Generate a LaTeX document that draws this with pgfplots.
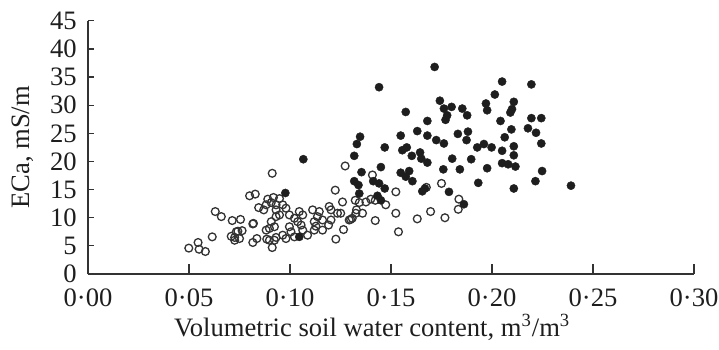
\documentclass[border=0pt]{standalone}
\usepackage{pgfplots}
\pgfplotsset{compat=1.18}
\usepackage{pgfplotstable}
\usepackage{fontspec}
\setmainfont{Liberation Serif}
\definecolor{ink}{HTML}{1E1E1E}
\definecolor{axc}{HTML}{333333}

\pgfplotstableread{
x y
0.0499 4.6
0.0545 5.6
0.0550 4.4
0.0581 4.0
0.0615 6.6
0.0630 11.1
0.0660 10.2
0.0714 9.5
0.0709 6.7
0.0726 6.5
0.0734 7.5
0.0912 17.9
0.0800 13.9
0.0828 14.2
0.0755 9.7
0.0819 9.0
0.0845 11.8
0.0870 11.4
0.0890 13.3
0.0918 13.6
0.0882 12.3
0.0907 12.7
0.0931 12.3
0.0907 9.3
0.0898 8.1
0.0923 8.4
0.0882 7.8
0.0742 7.6
0.0750 6.3
0.0726 6.0
0.0763 7.7
0.0816 5.6
0.0836 6.3
0.0885 6.2
0.0898 6.0
0.0912 4.7
0.0931 6.5
0.0931 10.2
0.0816 8.9
0.1273 19.2
0.1224 14.9
0.1260 12.8
0.0948 13.4
0.0964 12.3
0.0980 11.7
0.0931 11.4
0.0948 10.5
0.0997 10.5
0.1022 9.9
0.1046 11.1
0.1063 10.5
0.1038 9.3
0.1055 8.7
0.1063 7.8
0.1112 11.4
0.1145 11.1
0.1136 10.2
0.1194 12.0
0.1203 11.4
0.1235 10.8
0.1120 9.3
0.1128 8.5
0.1120 7.8
0.1161 9.6
0.1191 8.7
0.1203 9.6
0.1161 7.8
0.1087 6.9
0.0997 8.4
0.1005 7.5
0.1022 6.6
0.0964 6.9
0.0980 6.3
0.0923 6.0
0.1227 6.2
0.1293 9.6
0.1308 9.9
0.1323 13.1
0.1343 12.7
0.1376 12.8
0.1400 13.3
0.1422 13.1
0.1329 11.4
0.1359 10.8
0.1422 9.5
0.1408 17.6
0.1265 7.9
0.1251 10.8
0.1300 9.7
0.1326 10.8
0.1474 12.3
0.1524 14.6
0.1524 10.8
0.1537 7.5
0.1630 9.8
0.1696 11.1
0.1767 10.0
0.1750 16.1
0.1675 15.4
0.1836 13.3
0.1833 11.5
}\opendata

\pgfplotstableread{
x y
0.1716 36.8
0.1441 33.2
0.1742 30.8
0.1573 28.8
0.1762 29.4
0.1778 28.2
0.1800 29.7
0.1770 27.4
0.1853 29.4
0.1877 28.2
0.1970 30.3
0.1976 29.1
0.1680 27.2
0.1630 25.4
0.1680 24.6
0.1724 23.8
0.1762 23.2
0.1831 24.9
0.1881 25.3
0.1874 23.8
0.1927 22.5
0.1960 23.1
0.1548 24.6
0.1578 22.5
0.1556 22.0
0.1603 21.0
0.1644 21.6
0.1650 20.5
0.1680 19.8
0.1803 20.5
0.1897 20.4
0.1976 18.8
0.1841 18.6
0.1759 18.6
0.1548 18.0
0.1590 18.3
0.1573 17.3
0.1606 16.5
0.1932 16.2
0.1655 14.7
0.1668 15.2
0.1787 14.6
0.1861 12.4
0.1347 24.4
0.1331 23.1
0.1318 21.0
0.1469 22.5
0.1450 19.0
0.1354 18.1
0.1318 16.5
0.1339 15.8
0.1343 14.3
0.1412 16.5
0.1441 16.1
0.1469 15.2
0.1433 13.9
0.1450 13.1
0.1066 20.4
0.0977 14.4
0.1046 6.6
0.2050 34.2
0.2195 33.7
0.2014 31.9
0.2108 30.6
0.2099 29.3
0.2091 28.7
0.2042 27.2
0.2195 27.7
0.2244 27.7
0.2178 25.9
0.2218 25.1
0.2096 25.7
0.2063 24.3
0.2244 23.2
0.1998 22.5
0.2050 21.9
0.2108 22.7
0.2108 21.1
0.2050 19.7
0.2080 19.5
0.2116 19.1
0.2248 18.3
0.2215 16.5
0.2108 15.2
0.2391 15.7
}\filleddata

\begin{document}
\begin{tikzpicture}[font=\fontsize{13.3}{15}\selectfont]
\begin{axis}[
  scale only axis,
  width=303pt, height=126.6pt,
  xmin=0, xmax=0.30, ymin=0, ymax=45,
  axis x line*=bottom, axis y line*=left,
  axis line style={-, draw=axc, line width=0.65pt},
  tick style={draw=axc, line width=0.6pt},
  tick align=inside,
  x tick style={/pgfplots/major tick length=5pt},
  y tick style={/pgfplots/major tick length=3pt},
  xtick={0,0.05,0.10,0.15,0.20,0.25,0.30},
  xticklabels={0·00,0·05,0·10,0·15,0·20,0·25,0·30},
  ytick={0,5,...,45},
  /pgf/number format/assume math mode=true,
  xticklabel style={inner sep=1pt, yshift=-6pt, text=ink},
  yticklabel style={inner sep=1pt, xshift=-4.4pt, text=ink},
  xlabel={Volumetric soil water content, m\textsuperscript{3}/m\textsuperscript{3}},
  ylabel={ECa, mS/m},
  xlabel style={at={(axis description cs:0.469,-0.247)}, anchor=base, text=ink},
  ylabel style={at={(axis description cs:-0.107,0.5)}, anchor=center, text=ink},
  clip=false,
]
\addplot[only marks, mark=o, mark size=1.95pt, mark options={draw=axc, line width=0.65pt}] table {\opendata};
\addplot[only marks, mark=*, mark size=2.05pt, mark options={draw=ink, fill=ink, line width=0.2pt}] table {\filleddata};
\end{axis}
\pgfresetboundingbox
\path[use as bounding box] (-44pt,-37.5pt) rectangle (315.5pt,137pt);
\end{tikzpicture}
\end{document}
